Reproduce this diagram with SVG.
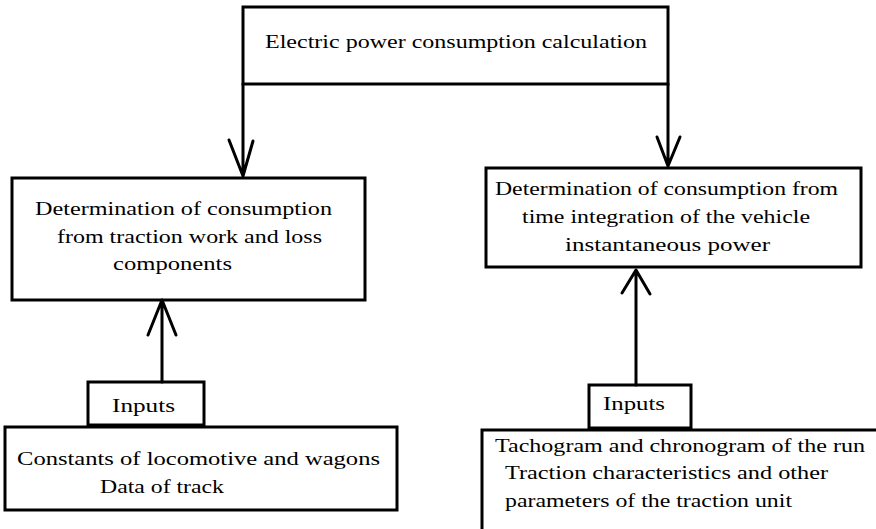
<svg xmlns="http://www.w3.org/2000/svg" width="876" height="529" viewBox="0 0 876 529">
<style>
.box{fill:#fff;stroke:#000;stroke-width:3}
.t{font-family:"Liberation Serif","DejaVu Serif",serif;font-size:19px;fill:#000}
.c{fill:none;stroke:#000;stroke-width:3;stroke-linecap:round;stroke-linejoin:round}
</style>
<rect width="876" height="529" fill="#fff"/>
<g id="top">
<rect class="box" x="243" y="7" width="425" height="77"/>
<text class="t" x="265" y="48" textLength="382" lengthAdjust="spacingAndGlyphs">Electric power consumption calculation</text>
</g>
<g id="left">
<rect class="box" x="12" y="178" width="353" height="122"/>
<text class="t" x="35" y="215" textLength="297" lengthAdjust="spacingAndGlyphs">Determination of consumption</text>
<text class="t" x="57" y="243" textLength="265" lengthAdjust="spacingAndGlyphs">from traction work and loss</text>
<text class="t" x="113" y="270" textLength="119" lengthAdjust="spacingAndGlyphs">components</text>
</g>
<g id="right">
<rect class="box" x="486" y="168" width="375" height="99"/>
<text class="t" x="495" y="195" textLength="343" lengthAdjust="spacingAndGlyphs">Determination of consumption from</text>
<text class="t" x="522" y="223" textLength="288" lengthAdjust="spacingAndGlyphs">time integration of the vehicle</text>
<text class="t" x="565" y="251" textLength="205" lengthAdjust="spacingAndGlyphs">instantaneous power</text>
</g>
<g id="inputs-left">
<rect class="box" x="88" y="382" width="116" height="43"/>
<text class="t" x="112" y="412" textLength="63" lengthAdjust="spacingAndGlyphs">Inputs</text>
</g>
<g id="data-left">
<rect class="box" x="5" y="427" width="392" height="83"/>
<text class="t" x="17" y="465" textLength="363" lengthAdjust="spacingAndGlyphs">Constants of locomotive and wagons</text>
<text class="t" x="100" y="493" textLength="124" lengthAdjust="spacingAndGlyphs">Data of track</text>
</g>
<g id="inputs-right">
<rect class="box" x="589" y="385" width="102" height="43"/>
<text class="t" x="603" y="410" textLength="62" lengthAdjust="spacingAndGlyphs">Inputs</text>
</g>
<g id="data-right">
<rect class="box" x="482" y="430" width="400" height="110"/>
<text class="t" x="495" y="452" textLength="370" lengthAdjust="spacingAndGlyphs">Tachogram and chronogram of the run</text>
<text class="t" x="505" y="479" textLength="323" lengthAdjust="spacingAndGlyphs">Traction characteristics and other</text>
<text class="t" x="505" y="507" textLength="287" lengthAdjust="spacingAndGlyphs">parameters of the traction unit</text>
</g>
<g id="connectors">
<path class="c" d="M243 84 V176 M229 140 L243 176 L253 141"/>
<path class="c" d="M668 84 V166 M657 137 L668 166 L680 137"/>
<path class="c" d="M162 382 V300 M148 335 L162 300 L176 335"/>
<path class="c" d="M636 385 V270 M622 293 L636 270 L650 294"/>
</g>
</svg>
